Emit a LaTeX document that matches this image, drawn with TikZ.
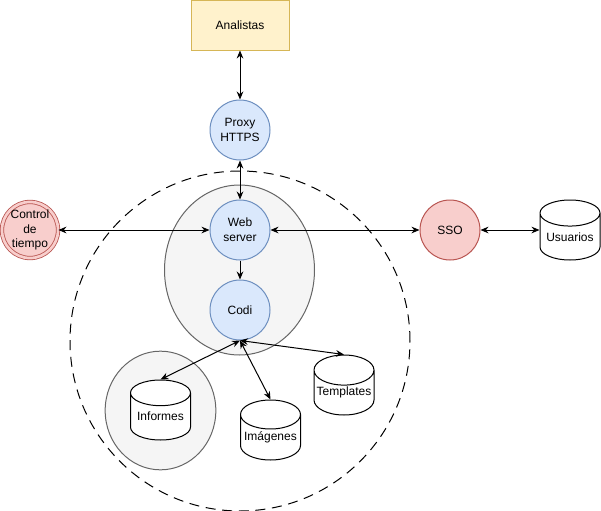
\documentclass[tikz,border=0pt]{standalone}
\usepackage{fontspec}
\setmainfont{Liberation Sans}
\usetikzlibrary{positioning,arrows.meta,shapes.geometric}
\definecolor{blueFill}{HTML}{DAE8FC}
\definecolor{blueLine}{HTML}{6C8EBF}
\definecolor{amberFill}{HTML}{FFF2CC}
\definecolor{amberLine}{HTML}{D6B656}
\definecolor{redFill}{HTML}{F8CECC}
\definecolor{redLine}{HTML}{B85450}
\definecolor{grayFill}{HTML}{F5F5F5}
\definecolor{grayLine}{HTML}{666666}
\tikzset{
  base/.style={inner sep=0pt, align=center, line width=0.75pt,
               font=\fontsize{9}{11}\selectfont},
  actor/.style={base, rectangle, draw=amberLine, fill=amberFill,
                minimum width=73.5pt, minimum height=37.5pt},
  service/.style={base, circle, draw=blueLine, fill=blueFill, minimum size=45pt},
  external/.style={base, circle, draw=redLine, fill=redFill, minimum size=45pt},
  store/.style={base, cylinder, shape border rotate=90, aspect=0.55, draw=black,
                fill=white, minimum width=45pt, minimum height=45pt,
                anchor=shape center},
  group/.style={ellipse, draw=grayLine, fill=grayFill, line width=0.75pt, inner sep=0pt},
  link/.style={{Stealth[length=6pt,width=5pt]}-{Stealth[length=6pt,width=5pt]}, line width=0.75pt},
  oneway/.style={-{Stealth[length=6pt,width=5pt]}, line width=0.75pt}
}
\begin{document}
\begin{tikzpicture}[x=0.75pt, y=-0.75pt]
\useasboundingbox (0,0) rectangle (601,511);
% zonas
\node[circle, draw, dash pattern=on 7.5pt off 5pt, line width=0.75pt,
      minimum size=255pt, inner sep=0pt] (zone) at (240,341) {};
\node[group, minimum width=112.5pt, minimum height=127.5pt] (core) at (239.5,270) {};
\node[group, minimum width=83pt, minimum height=89pt] (reports) at (160.5,410.5) {};

% nodos
\node[actor] (analistas) at (240,25) {Analistas};
\node[service] (proxy) at (240,130) {Proxy\\HTTPS};
\node[service] (web) at (240,230) {Web\\server};
\node[service] (codi) at (240,310) {Codi};
\node[external, double=redFill, double distance=2pt, line width=0.6pt,
      minimum size=41pt] (control) at (30,230) {Control\\de\\tiempo};
\node[external] (sso) at (450,230) {SSO};
\node[store] (usuarios) at (570,230) {Usuarios};
\node[store] (informes) at (160.5,410) {Informes};
\node[store] (imagenes) at (270.5,430) {Imágenes};
\node[store] (templates) at (344,385) {Templates};

% conexiones
\draw[link] (analistas) -- (proxy);
\draw[link] (proxy) -- (web);
\draw[link] (control) -- (web);
\draw[link] (web) -- (sso);
\draw[link] (sso) -- (sso -| usuarios.west);
\draw[oneway] (web) -- (codi);
\draw[link] (codi.south) -- (informes.north);
\draw[link] (codi.south) -- (imagenes.north);
\draw[link] (codi.south) -- (templates.north);
\end{tikzpicture}
\end{document}
